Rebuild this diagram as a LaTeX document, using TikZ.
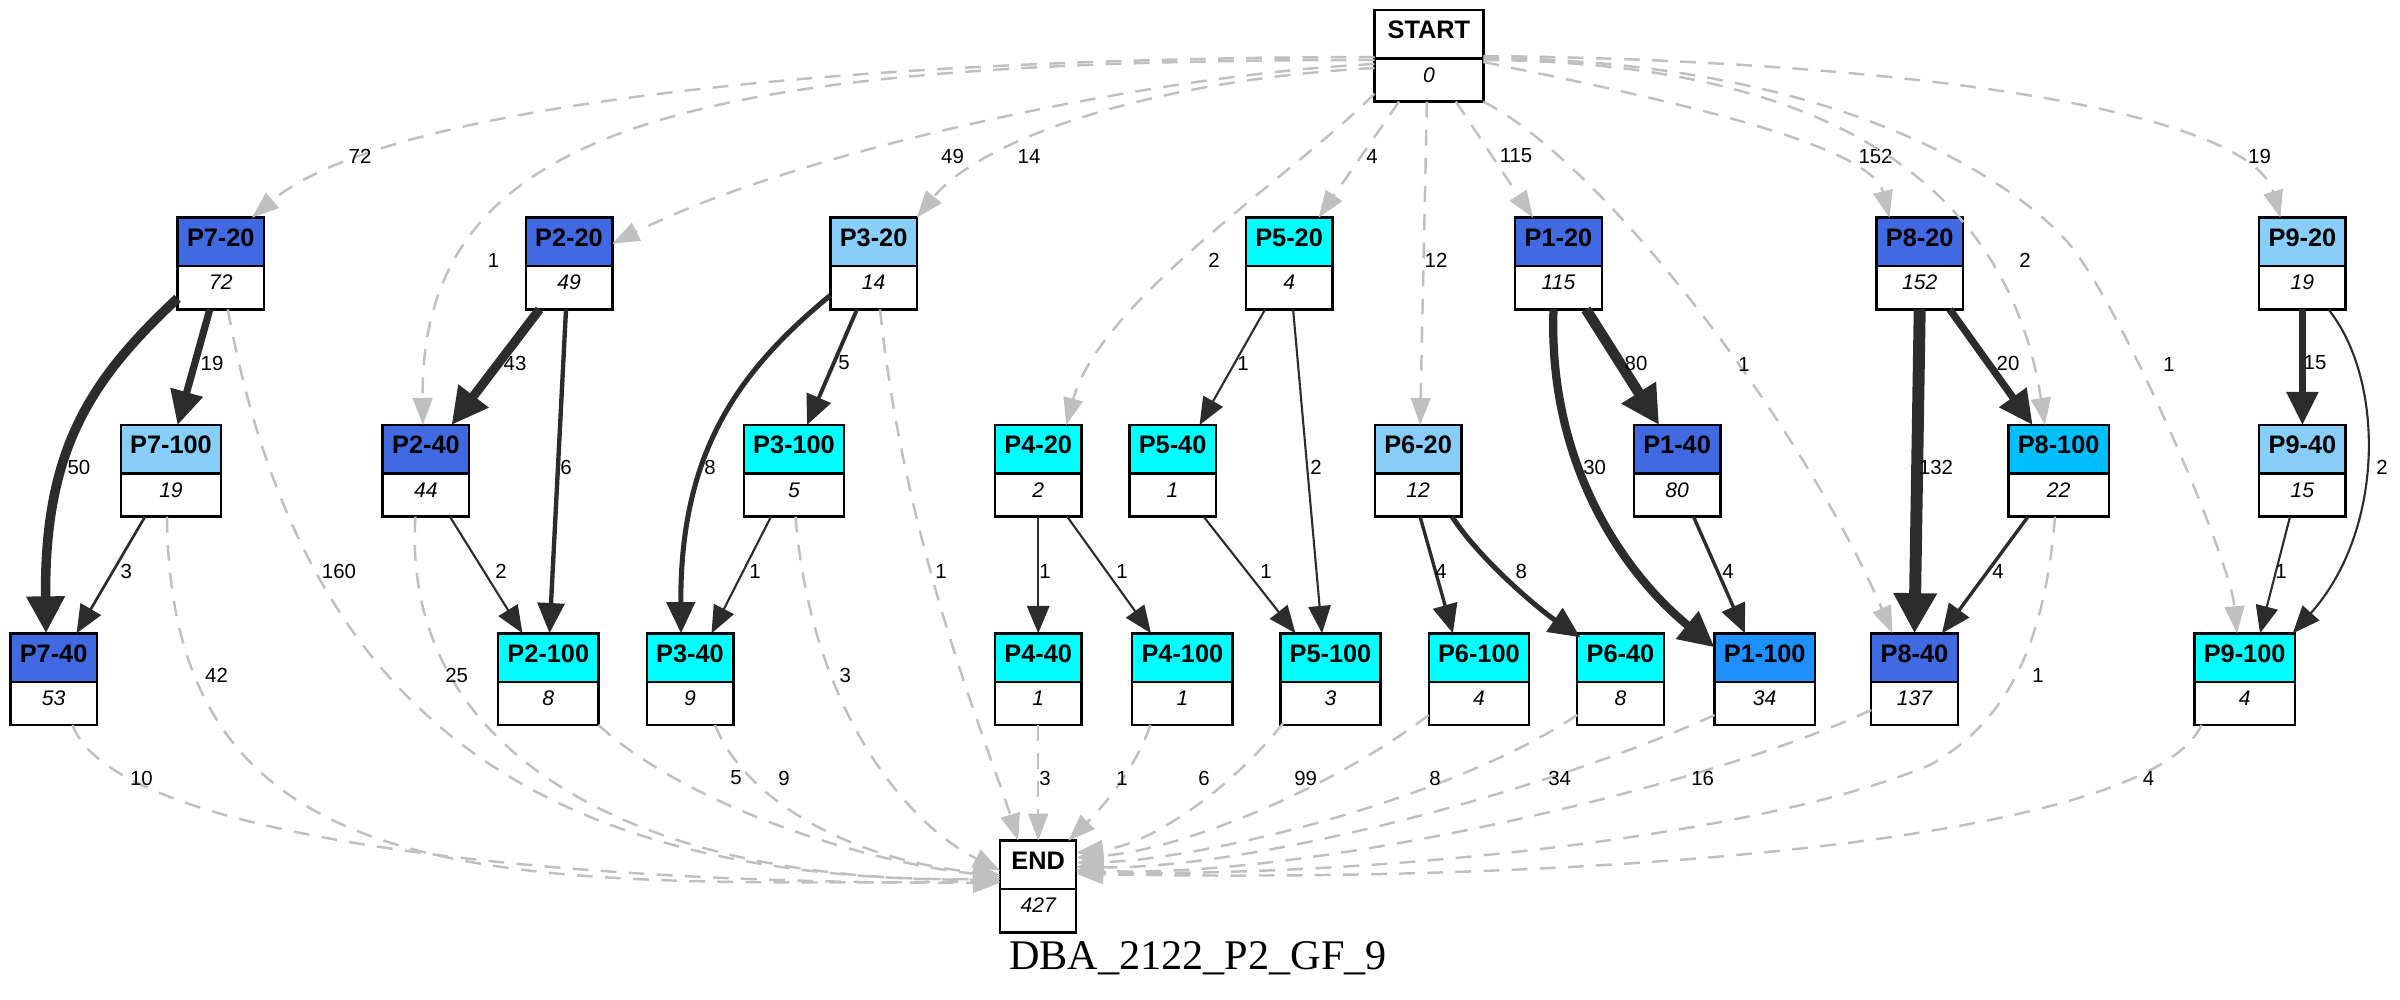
\documentclass[tikz,border=0pt]{standalone}
\usepackage{fontspec}
\setmainfont{Liberation Sans}
\newfontfamily\titlefont{Liberation Serif}
\usetikzlibrary{arrows.meta,calc,shapes.multipart}

\tikzset{
  rec/.style={rectangle split, rectangle split parts=2, draw=black, line width=0.7pt,
    rectangle split part fill={#1,white}, minimum width=0.865cm,
    inner xsep=1pt, inner ysep=0pt, outer sep=0pt, anchor=north},
  wide/.style={minimum width=1.003cm},
  lbl/.style={font=\fontsize{5.8}{6}\selectfont, inner sep=0pt},
  gflow/.style={draw=flowgray, line width=0.7pt, dash pattern=on 4.5pt off 3.5pt,
    -{Triangle[length=7.7pt,width=5.6pt]}},
  flow/.style={draw=flowdark, line width=#1,
    -{Triangle[length=7pt 1.3,width=5.2pt 1.9]}},
}
\newcommand{\hd}[1]{\rule[-1.83mm]{0pt}{4.6mm}{\fontsize{7.2}{8}\selectfont\bfseries #1}}
\newcommand{\bd}[1]{\rule[-1.83mm]{0pt}{4.07mm}{\fontsize{6}{7}\selectfont\itshape #1}}

\begin{document}
\begin{tikzpicture}[x=0.01cm,y=-0.01cm]  %1 unit = 1 px of the 2400x1000 image
    \definecolor{royal}{RGB}{65,105,225};     %P?-20 / P?-40 dark
    \definecolor{sky}{RGB}{135,206,250};      %light
    \definecolor{cyn}{RGB}{0,255,255};        %cyan
    \definecolor{deepsky}{RGB}{0,191,255};
    \definecolor{dodger}{RGB}{30,144,255};
    \definecolor{flowgray}{RGB}{192,192,192};
    \definecolor{flowdark}{RGB}{44,44,44};
    \useasboundingbox (0,0) rectangle (2400,1000);

    \def\ya{217.7};  \def\yb{425};  \def\yc{633.3};  %row tops

    %start / end
    \node[rec=white, minimum width=1.087cm] (START) at (1428.9,10) {\hd{START}\nodepart{two}\bd{0}};
    \node[rec=white, minimum width=0.76cm] (END) at (1038.2,840.7) {\hd{END}\nodepart{two}\bd{427}};

    %row 1
    \node[rec=royal] (P720) at (220.8,\ya) {\hd{P7-20}\nodepart{two}\bd{72}};
    \node[rec=royal] (P220) at (569,\ya) {\hd{P2-20}\nodepart{two}\bd{49}};
    \node[rec=sky] (P320) at (873.6,\ya) {\hd{P3-20}\nodepart{two}\bd{14}};
    \node[rec=cyn] (P520) at (1289.1,\ya) {\hd{P5-20}\nodepart{two}\bd{4}};
    \node[rec=royal] (P120) at (1558.5,\ya) {\hd{P1-20}\nodepart{two}\bd{115}};
    \node[rec=royal] (P820) at (1919.7,\ya) {\hd{P8-20}\nodepart{two}\bd{152}};
    \node[rec=sky] (P920) at (2302.4,\ya) {\hd{P9-20}\nodepart{two}\bd{19}};

    %row 2
    \node[rec=sky, wide] (P7100) at (171,\yb) {\hd{P7-100}\nodepart{two}\bd{19}};
    \node[rec=royal] (P240) at (425.9,\yb) {\hd{P2-40}\nodepart{two}\bd{44}};
    \node[rec=cyn, wide] (P3100) at (794,\yb) {\hd{P3-100}\nodepart{two}\bd{5}};
    \node[rec=cyn] (P420) at (1038.2,\yb) {\hd{P4-20}\nodepart{two}\bd{2}};
    \node[rec=cyn] (P540) at (1172.6,\yb) {\hd{P5-40}\nodepart{two}\bd{1}};
    \node[rec=sky] (P620) at (1418.1,\yb) {\hd{P6-20}\nodepart{two}\bd{12}};
    \node[rec=royal] (P140) at (1677.1,\yb) {\hd{P1-40}\nodepart{two}\bd{80}};
    \node[rec=deepsky, wide] (P8100) at (2058.6,\yb) {\hd{P8-100}\nodepart{two}\bd{22}};
    \node[rec=sky] (P940) at (2302.4,\yb) {\hd{P9-40}\nodepart{two}\bd{15}};

    %row 3
    \node[rec=royal] (P740) at (53.6,\yc) {\hd{P7-40}\nodepart{two}\bd{53}};
    \node[rec=cyn, wide] (P2100) at (548.3,\yc) {\hd{P2-100}\nodepart{two}\bd{8}};
    \node[rec=cyn] (P340) at (690,\yc) {\hd{P3-40}\nodepart{two}\bd{9}};
    \node[rec=cyn] (P440) at (1038.2,\yc) {\hd{P4-40}\nodepart{two}\bd{1}};
    \node[rec=cyn, wide] (P4100) at (1182.4,\yc) {\hd{P4-100}\nodepart{two}\bd{1}};
    \node[rec=cyn, wide] (P5100) at (1330.5,\yc) {\hd{P5-100}\nodepart{two}\bd{3}};
    \node[rec=cyn, wide] (P6100) at (1478.9,\yc) {\hd{P6-100}\nodepart{two}\bd{4}};
    \node[rec=cyn] (P640) at (1620.5,\yc) {\hd{P6-40}\nodepart{two}\bd{8}};
    \node[rec=dodger, wide] (P1100) at (1764.7,\yc) {\hd{P1-100}\nodepart{two}\bd{34}};
    \node[rec=royal] (P840) at (1914.5,\yc) {\hd{P8-40}\nodepart{two}\bd{137}};
    \node[rec=cyn, wide] (P9100) at (2244.6,\yc) {\hd{P9-100}\nodepart{two}\bd{4}};

    %edges out of START
    \draw[gflow] ($(START.north west)+(0,47)$) .. controls (800,58) and (380,110) .. ($(P720.north)+(31,0)$) node[lbl] (s1) at (360,156) {72};
    \draw[gflow] ($(START.north west)+(0,50)$) .. controls (700,60) and (420,120) .. ($(P240.north)+(-3,0)$) node[lbl] (s2) at (493.5,260) {1};
    \draw[gflow] ($(START.north west)+(0,54)$) .. controls (1150,75) and (800,150) .. ($(P220.north east)+(0,26)$) node[lbl] (s3) at (952.5,156) {49};
    \draw[gflow] ($(START.north west)+(0,58)$) .. controls (1150,80) and (980,140) .. (P320.north east) node[lbl] (s4) at (1029,156) {14};
    \draw[gflow] ($(START.south west)+(0,-8)$) .. controls (1300,170) and (1100,300) .. ($(P420.north)+(28,0)$) node[lbl] (s5) at (1214,260) {2};
    \draw[gflow] ($(START.south)+(-30,0)$) -- ($(P520.north)+(29.5,0)$) node[lbl] (s6) at (1372,156) {4};
    \draw[gflow] ($(START.south)+(-2,0)$) -- ($(P620.north)+(2,0)$) node[lbl] (s7) at (1436,260) {12};
    \draw[gflow] ($(START.south)+(27,0)$) -- ($(P120.north)+(-25.5,0)$) node[lbl] (s8) at (1516,156) {115};
    \draw[gflow] (START.south east) .. controls (1600,160) and (1800,420) .. ($(P840.north)+(-22,0)$) node[lbl] (s9) at (1744,364) {1};
    \draw[gflow] ($(START.north east)+(0,52)$) .. controls (1620,90) and (1870,140) .. ($(P820.north west)+(13,0)$) node[lbl] (s10) at (1875.5,156) {152};
    \draw[gflow] ($(START.north east)+(0,50)$) .. controls (1850,62) and (2010,200) .. ($(P8100.north)+(-13.6,0)$) node[lbl] (s11) at (2025,260) {2};
    \draw[gflow] ($(START.north east)+(0,48)$) .. controls (1850,60) and (2030,192) .. (2074,250) .. controls (2130,325) and (2230,560) .. ($(P9100.north)+(-7.6,0)$) node[lbl] (s12) at (2169,364) {1};
    \draw[gflow] ($(START.north east)+(0,46)$) .. controls (1900,60) and (2250,110) .. ($(P920.north)+(-22,0)$) node[lbl] (s13) at (2259.5,156) {19};

    %edges into END
    \draw[gflow] ($(P740.south)+(19,0)$) .. controls (110,830) and (500,884) .. ($(END.north west)+(0,42)$) node[lbl] (e1) at (141.5,778) {10};
    \draw[gflow] ($(P7100.south)+(-4,0)$) .. controls (170,900) and (500,884) .. ($(END.north west)+(0,41)$) node[lbl] (e2) at (216.5,675) {42};
    \draw[gflow] ($(P720.south)+(7,0)$) .. controls (300,700) and (520,880) .. ($(END.north west)+(0,39)$) node[lbl] (e3) at (339,571) {160};
    \draw[gflow] ($(P240.south)+(-10.5,0)$) .. controls (400,760) and (650,884) .. ($(END.north west)+(0,38)$) node[lbl] (e4) at (456.7,675) {25};
    \draw[gflow] (P2100.south east) .. controls (680,800) and (850,860) .. ($(END.north west)+(0,36)$) node[lbl] (e5) at (736,778) {5};
    \draw[gflow] ($(P340.south)+(25,0)$) .. controls (745,800) and (850,860) .. ($(END.north west)+(0,34)$) node[lbl] (e6) at (784,778) {9};
    \draw[gflow] ($(P3100.south)+(1.6,0)$) .. controls (810,700) and (900,820) .. ($(END.north west)+(0,30)$) node[lbl] (e7) at (845.3,675) {3};
    \draw[gflow] ($(P320.south)+(6.4,0)$) .. controls (905,550) and (990,750) .. ($(END.north west)+(18,0)$) node[lbl] (e8) at (941,571) {1};
    \draw[gflow] (P440.south) -- (END.north) node[lbl] (e9) at (1045,778) {3};
    \draw[gflow] ($(P4100.south)+(-32,0)$) .. controls (1135,770) and (1100,810) .. ($(END.north east)+(-8,0)$) node[lbl] (e10) at (1122,778) {1};
    \draw[gflow] ($(P5100.south west)+(3,-2)$) .. controls (1230,790) and (1150,845) .. ($(END.north east)+(0,12)$) node[lbl] (e11) at (1204,778) {6};
    \draw[gflow] ($(P6100.south west)+(0,-10)$) .. controls (1330,790) and (1180,850) .. ($(END.north east)+(0,17)$) node[lbl] (e12) at (1305.6,778) {99};
    \draw[gflow] ($(P640.south west)+(0,-10)$) .. controls (1450,800) and (1200,860) .. ($(END.north east)+(0,22)$) node[lbl] (e13) at (1435,778) {8};
    \draw[gflow] ($(P1100.south west)+(0,-10)$) .. controls (1550,790) and (1250,870) .. ($(END.north east)+(0,26)$) node[lbl] (e14) at (1559.6,778) {34};
    \draw[gflow] ($(P840.south west)+(0,-15)$) .. controls (1700,790) and (1300,880) .. ($(END.north east)+(0,29)$) node[lbl] (e15) at (1702.6,778) {16};
    \draw[gflow] ($(P8100.south)+(-3.6,0)$) .. controls (2045,640) and (2010,720) .. (1930,765) .. controls (1750,840) and (1350,878) .. ($(END.north east)+(0,31)$) node[lbl] (e16) at (2038,675) {1};
    \draw[gflow] ($(P9100.south west)+(7,0)$) .. controls (2150,840) and (1600,884) .. ($(END.north east)+(0,33)$) node[lbl] (e17) at (2148.6,778) {4};

    %P7
    \draw[flow=2.7pt] ($(P720.south west)+(0,-11)$) .. controls (90,380) and (44,450) .. ($(P740.north)+(-7.6,0)$) node[lbl] (d1) at (79,467) {50};
    \draw[flow=2.05pt] ($(P720.south)+(-11,0)$) -- ($(P7100.north)+(6.6,0)$) node[lbl] (d2) at (212,363) {19};
    \draw[flow=0.76pt] ($(P7100.south)+(-26,0)$) -- ($(P740.north)+(23,0)$) node[lbl] (d3) at (126.2,571) {3};
    %P2
    \draw[flow=2.6pt] ($(P220.south)+(-29.5,0)$) -- ($(P240.north)+(25.6,0)$) node[lbl] (d4) at (515,363) {43};
    \draw[flow=1.24pt] ($(P220.south)+(-3,0)$) -- ($(P2100.north)+(1.2,0)$) node[lbl] (d5) at (566,467) {6};
    \draw[flow=0.6pt] ($(P240.south)+(24,0)$) -- ($(P2100.north)+(-25.8,0)$) node[lbl] (d6) at (501,571) {2};
    %P3
    \draw[flow=1.44pt] ($(P320.south west)+(0,-14)$) .. controls (740,370) and (680,450) .. ($(P340.north)+(-9,0)$) node[lbl] (d7) at (710,467) {8};
    \draw[flow=1.11pt] ($(P320.south)+(-16.6,0)$) -- ($(P3100.north)+(13,0)$) node[lbl] (d8) at (844,363) {5};
    \draw[flow=0.6pt] ($(P3100.south)+(-23,0)$) -- ($(P340.north)+(21.5,0)$) node[lbl] (d9) at (755,571) {1};
    %P4
    \draw[flow=0.6pt] (P420.south) -- (P440.north) node[lbl] (d10) at (1045,571) {1};
    \draw[flow=0.6pt] ($(P420.south)+(29,0)$) -- ($(P4100.north)+(-31.4,0)$) node[lbl] (d11) at (1122,571) {1};
    %P5
    \draw[flow=0.6pt] ($(P520.south)+(-24,0)$) -- ($(P540.north)+(27,0)$) node[lbl] (d12) at (1243,363) {1};
    \draw[flow=0.6pt] ($(P520.south)+(4,0)$) -- ($(P5100.north)+(-8.5,0)$) node[lbl] (d13) at (1316,467) {2};
    \draw[flow=0.6pt] ($(P540.south)+(31,0)$) -- ($(P5100.north)+(-35,0)$) node[lbl] (d14) at (1266,571) {1};
    %P6
    \draw[flow=0.96pt] ($(P620.south)+(2,0)$) -- ($(P6100.north)+(-26,0)$) node[lbl] (d15) at (1441,571) {4};
    \draw[flow=1.44pt] ($(P620.south)+(34,0)$) .. controls (1480,560) and (1540,610) .. ($(P640.north west)+(3,4)$) node[lbl] (d16) at (1521.3,571) {8};
    %P1
    \draw[flow=3.0pt] ($(P120.south)+(27.5,0)$) -- ($(P140.north)+(-18,0)$) node[lbl] (d17) at (1636,363) {80};
    \draw[flow=2.35pt] ($(P120.south)+(-5,0)$) .. controls (1548,460) and (1620,570) .. ($(P1100.north west)+(0,14)$) node[lbl] (d18) at (1594.7,467) {30};
    \draw[flow=0.96pt] ($(P140.south)+(16.4,0)$) -- ($(P1100.north)+(-19.7,0)$) node[lbl] (d19) at (1728,571) {4};
    %P8
    \draw[flow=3.4pt] (P820.south) -- (P840.north) node[lbl] (d20) at (1936,467) {132};
    \draw[flow=2.07pt] ($(P820.south)+(30,0)$) -- ($(P8100.north)+(-26,0)$) node[lbl] (d21) at (2008,363) {20};
    \draw[flow=0.96pt] ($(P8100.south)+(-30.6,0)$) -- ($(P840.north)+(27.5,0)$) node[lbl] (d22) at (1998,571) {4};
    %P9
    \draw[flow=1.88pt] (P920.south) -- (P940.north) node[lbl] (d23) at (2315,363) {15};
    \draw[flow=0.6pt] ($(P920.south)+(26,0)$) .. controls (2385,380) and (2385,530) .. ($(P9100.north east)+(-2,0)$) node[lbl] (d24) at (2382,467) {2};
    \draw[flow=0.6pt] ($(P940.south)+(-12.4,0)$) -- ($(P9100.north)+(15.4,0)$) node[lbl] (d25) at (2281,571) {1};

    \node[font=\titlefont\fontsize{12}{14}\selectfont, anchor=base, inner sep=0pt] (title) at (1198,969) {DBA\_2122\_P2\_GF\_9};
\end{tikzpicture}
\end{document}
